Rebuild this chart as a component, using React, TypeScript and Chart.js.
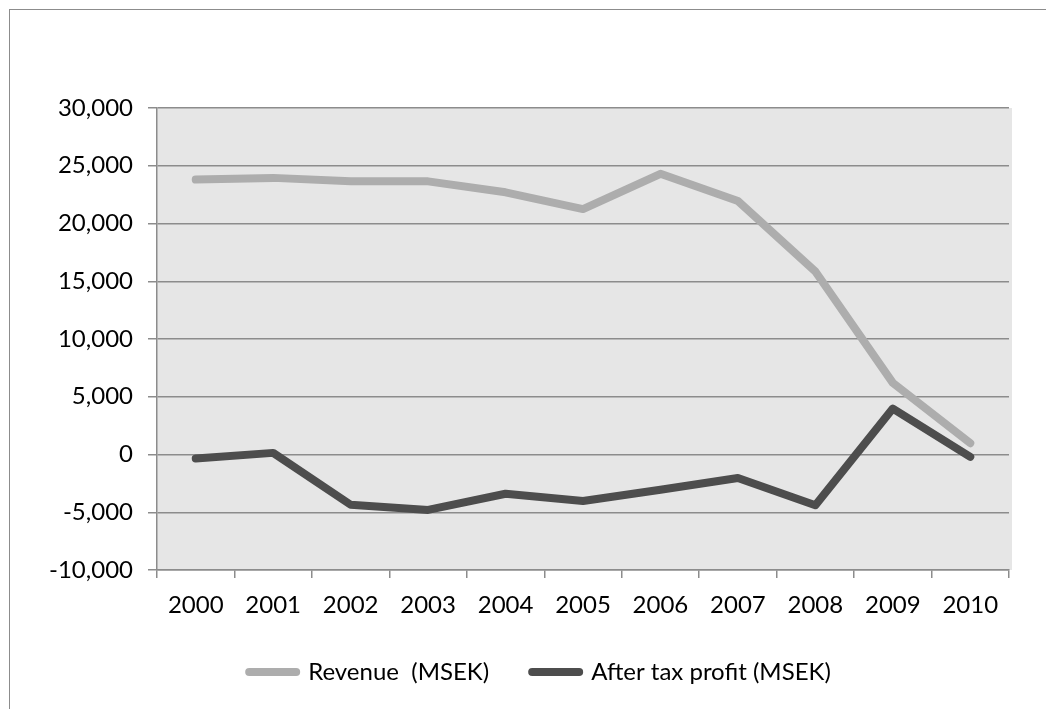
import React, { useEffect, useRef } from "react";
import { Chart, registerables } from "chart.js";

Chart.register(...registerables);

const years = ["2000", "2001", "2002", "2003", "2004", "2005", "2006", "2007", "2008", "2009", "2010"];
const revenueLabel = "Revenue  (MSEK)";
const profitLabel = "After tax profit (MSEK)";
const revenue = [23800, 23950, 23650, 23650, 22700, 21250, 24300, 21950, 15850, 6200, 980];
const afterTaxProfit = [-350, 140, -4350, -4800, -3400, -4030, -3050, -2030, -4400, 3980, -200];
const yTickValues = [-10000, -5000, 0, 5000, 10000, 15000, 20000, 25000, 30000];

const GRID = "#8c8c8c";
const FONT = { family: "Lato", size: 24 };

const plotBg = {
  id: "plotBg",
  beforeDraw(chart: any) {
    const { ctx, chartArea: a } = chart;
    ctx.save();
    ctx.fillStyle = "#e6e6e6";
    ctx.fillRect(a.left, a.top, a.right - a.left + 3, a.bottom - a.top);
    ctx.restore();
  },
};

export default function App() {
  const ref = useRef<HTMLCanvasElement | null>(null);

  useEffect(() => {
    if (!ref.current) return;
    const chart = new Chart(ref.current, {
      type: "line",
      data: {
        labels: years,
        datasets: [
          {
            label: revenueLabel,
            data: revenue,
            borderColor: "#adadad",
            backgroundColor: "#adadad",
            borderWidth: 8,
            borderCapStyle: "round",
            borderJoinStyle: "round",
            pointRadius: 0,
            tension: 0,
            order: 2,
          },
          {
            label: profitLabel,
            data: afterTaxProfit,
            borderColor: "#4d4d4d",
            backgroundColor: "#4d4d4d",
            borderWidth: 8,
            borderCapStyle: "round",
            borderJoinStyle: "round",
            pointRadius: 0,
            tension: 0,
            order: 1,
          },
        ],
      },
      options: {
        responsive: false,
        animation: false,
        color: "#000",
        layout: { padding: { left: 35, right: 1, top: 108, bottom: 15 } },
        plugins: {
          tooltip: { enabled: false },
          legend: {
            position: "bottom",
            align: "center",
            labels: {
              usePointStyle: true,
              pointStyle: "line",
              pointStyleWidth: 47,
              padding: 43,
              color: "#000",
              font: FONT,
              generateLabels: (c: any) =>
                c.data.datasets.map((ds: any, i: number) => ({
                  text: ds.label,
                  strokeStyle: ds.borderColor,
                  fillStyle: ds.borderColor,
                  lineWidth: ds.borderWidth,
                  lineCap: "round",
                  pointStyle: "line",
                  hidden: false,
                  datasetIndex: i,
                  fontColor: "#000",
                })),
            },
          },
        },
        scales: {
          x: {
            offset: true,
            grid: {
              offset: true,
              drawOnChartArea: false,
              drawTicks: true,
              tickLength: 8,
              color: GRID,
              lineWidth: 1.5,
            },
            border: { display: true, color: GRID, width: 1.5 },
            ticks: { color: "#000", font: FONT, padding: 13, maxRotation: 0, autoSkip: false },
            afterFit: (s: any) => {
              s.height = 47;
            },
          },
          y: {
            min: -10000,
            max: 30000,
            afterBuildTicks: (s: any) => {
              s.ticks = yTickValues.map((v) => ({ value: v }));
            },
            grid: {
              drawOnChartArea: true,
              drawTicks: true,
              tickLength: 9,
              color: GRID,
              lineWidth: 1.5,
            },
            border: { display: true, color: GRID, width: 1.5 },
            ticks: {
              color: "#000",
              font: FONT,
              padding: 15,
              callback: (v: any) => Number(v).toLocaleString("en-US"),
            },
            afterFit: (s: any) => {
              s.width = 122;
            },
          },
          spacer: {
            type: "linear",
            position: "right",
            display: true,
            grid: { display: false, drawTicks: false },
            border: { display: false },
            ticks: { display: false },
            afterFit: (s: any) => {
              s.width = 36;
            },
          },
        },
      },
      plugins: [plotBg],
    });
    return () => chart.destroy();
  }, []);

  return (
    <div style={{ position: "fixed", left: 0, top: 0, width: 1046, height: 709, overflow: "hidden", background: "#fff" }}>
      <div
        style={{
          position: "absolute",
          left: 9,
          top: 9,
          width: 1100,
          height: 800,
          borderTop: "1px solid #8c8c8c",
          borderLeft: "1px solid #8c8c8c",
        }}
      />
      <canvas
        ref={ref}
        width={1046}
        height={709}
        style={{ position: "absolute", left: 0, top: 0, width: 1046, height: 709 }}
      />
    </div>
  );
}
